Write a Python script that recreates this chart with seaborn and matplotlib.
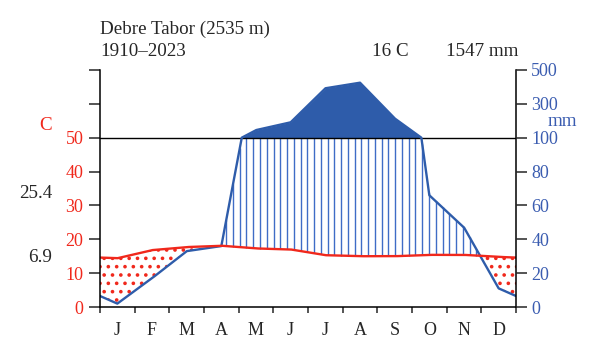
import numpy as np
import pandas as pd
import matplotlib
matplotlib.use('Agg')
import matplotlib.pyplot as plt
import seaborn as sns

meses = ['J', 'F', 'M', 'A', 'M', 'J', 'J', 'A', 'S', 'O', 'N', 'D']
temperatura = [14.4, 16.8, 17.7, 18.1, 17.3, 17.0, 15.3, 15.0, 15.0, 15.4, 15.4, 14.8]
precipitacion = [2, 17, 33, 36, 145, 191, 392, 425, 214, 66, 47, 11]
ticks_temp = [0, 10, 20, 30, 40, 50]
etiquetas_mm = ['0', '20', '40', '60', '80', '100', '300', '500']

ROJO = '#f0281c'
AZUL = '#2e5caa'
AZUL_TXT = '#3a5cb0'

sns.set_style('ticks')
plt.rcParams['font.family'] = ['Liberation Serif', 'DejaVu Serif']
plt.rcParams['hatch.linewidth'] = 1.4


def escala_prec(p):
    # Escala Walter-Lieth: 2 mm por grado hasta 100 mm, luego 20 mm por grado.
    p = np.asarray(p, dtype=float)
    return np.where(p <= 100, p / 2, 50 + (p - 100) / 20)


# Curvas mensuales con cierre cíclico (dic -> ene), trazadas en una malla fina.
xm = np.arange(12) + 0.5
xc = np.concatenate([[-0.5], xm, [12.5]])
tc = np.concatenate([[temperatura[-1]], temperatura, [temperatura[0]]])
pc = np.concatenate([[precipitacion[-1]], precipitacion, [precipitacion[0]]])
x = np.linspace(0, 12, 2401)
t = np.interp(x, xc, tc)
p = escala_prec(np.interp(x, xc, pc))
df = pd.DataFrame({'x': x, 'temp': t, 'prec': p})

fig = plt.figure(figsize=(6, 3.6), dpi=100)
ax = fig.add_axes([100 / 600, 53 / 360, 416 / 600, 237 / 360])

# Periodo seco: punteado rojo.
ax.fill_between(df['x'], df['prec'], df['temp'], where=df['prec'] < df['temp'],
                facecolor='none', edgecolor=ROJO, hatch='..', linewidth=0, interpolate=True)

# Periodo húmedo: líneas verticales azules.
xv = np.arange(0.13, 12, 0.195)
tv = np.interp(xv, xc, tc)
pv = escala_prec(np.interp(xv, xc, pc))
mask = pv > tv
ax.vlines(xv[mask], tv[mask], np.minimum(pv[mask], 50), color='#3f6cc6', lw=1.0)

# Periodo muy húmedo (>100 mm): relleno azul.
ax.fill_between(df['x'], 50, df['prec'], where=df['prec'] > 50,
                color=AZUL, linewidth=0, interpolate=True)

ax.axhline(50, color='black', lw=1.0)
sns.lineplot(data=df, x='x', y='prec', ax=ax, color=AZUL, lw=1.7, estimator=None)
sns.lineplot(data=df, x='x', y='temp', ax=ax, color=ROJO, lw=1.7, estimator=None)

ax.set_xlim(0, 12)
ax.set_ylim(0, 70)
ax.set_xlabel('')
ax.set_ylabel('')
for lado in ['left', 'right', 'bottom']:
    ax.spines[lado].set_visible(True)
    ax.spines[lado].set_color('black')
    ax.spines[lado].set_linewidth(1.1)
ax.spines['top'].set_visible(False)

ax.set_yticks(range(0, 71, 10))
ax.set_yticklabels([str(v) if v in ticks_temp else '' for v in range(0, 71, 10)],
                   color=ROJO, fontsize=13)
ax.tick_params(axis='y', length=8, width=1.1, pad=4)

ax.set_xticks(range(13))
ax.set_xticklabels([])
ax.set_xticks(xm, minor=True)
ax.set_xticklabels(meses, minor=True, fontsize=13)
ax.tick_params(axis='x', which='major', length=4, width=1.1)
ax.tick_params(axis='x', which='minor', length=0, pad=11)

ax2 = ax.twinx()
ax2.set_ylim(0, 70)
ax2.set_yticks(range(0, 71, 10))
ax2.set_yticklabels(etiquetas_mm, color=AZUL_TXT, fontsize=13)
ax2.tick_params(axis='y', length=8, width=1.1, pad=3)
for lado in ['left', 'right', 'bottom', 'top']:
    ax2.spines[lado].set_visible(False)
ax2.grid(False)

# Textos de cabecera y márgenes.
fig.text(100 / 600, 1 - 29 / 360, 'Debre Tabor (2535 m)', fontsize=13.7, va='center', ha='left')
fig.text(100 / 600, 1 - 52 / 360, '1910–2023', fontsize=13.7, va='center', ha='left')
fig.text(390 / 600, 1 - 52 / 360, '16 C', fontsize=13.7, va='center', ha='center')
fig.text(482 / 600, 1 - 52 / 360, '1547 mm', fontsize=13.7, va='center', ha='center')
fig.text(46 / 600, 1 - 125 / 360, 'C', fontsize=13.7, va='center', ha='center', color=ROJO)
fig.text(562 / 600, 1 - 121 / 360, 'mm', fontsize=13.7, va='center', ha='center', color=AZUL_TXT)
fig.text(52 / 600, 1 - 193 / 360, '25.4', fontsize=13.7, va='center', ha='right')
fig.text(52 / 600, 1 - 257 / 360, '6.9', fontsize=13.7, va='center', ha='right')

fig.savefig('out.png', dpi=100, facecolor='white')
